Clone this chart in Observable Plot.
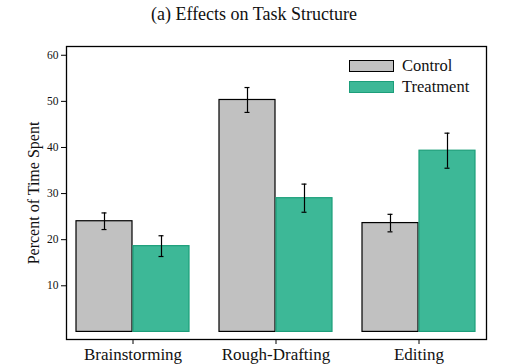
<!DOCTYPE html>
<html>
<head>
<meta charset="utf-8">
<script src="https://cdn.jsdelivr.net/npm/d3@7"></script>
<script src="https://cdn.jsdelivr.net/npm/@observablehq/plot@0.6"></script>
<style>
  html, body { margin: 0; padding: 0; background: #fff; }
  #wrap { position: relative; width: 512px; height: 364px; font-family: "Liberation Serif", "Times New Roman", Times, "DejaVu Serif", serif; }
  #title { position: absolute; left: 0; top: 4px; width: 508px; text-align: center; font-size: 18px; color: #111; line-height: 20px; }
  #chart { position: absolute; left: 0; top: 30px; }
  #chart svg, #chart svg text { font-family: "Liberation Serif", "Times New Roman", Times, "DejaVu Serif", serif !important; }
  .legend { position: absolute; left: 349px; font-size: 16.5px; color: #111; line-height: 16px; }
  .legend .item { display: flex; align-items: center; height: 20.5px; }
  .legend .sw { width: 43px; height: 10px; margin-right: 8px; box-sizing: content-box; }
</style>
</head>
<body>
<div id="wrap">
  <div id="title">(a) Effects on Task Structure</div>
  <div id="chart"></div>
  <div class="legend" id="legend" style="top:56px"></div>
</div>
<script>
const categories = ["Brainstorming", "Rough-Drafting", "Editing"];
const groups = ["Control", "Treatment"];
const controlValues = [24.0, 50.3, 23.6];
const controlErrors = [1.8, 2.7, 1.9];
const treatmentValues = [18.6, 29.0, 39.3];
const treatmentErrors = [2.25, 3.05, 3.8];
const yTicks = [10, 20, 30, 40, 50, 60];
const colors = {Control: "#c1c1c1", Treatment: "#3db897"};
const strokes = {Control: "#000000", Treatment: "#1c9e7a"};

const control = categories.map((c, i) => ({cat: c, value: controlValues[i], lo: controlValues[i] - controlErrors[i], hi: controlValues[i] + controlErrors[i]}));
const treatment = categories.map((c, i) => ({cat: c, value: treatmentValues[i], lo: treatmentValues[i] - treatmentErrors[i], hi: treatmentValues[i] + treatmentErrors[i]}));

const half = 57, off = 28.5;
const serif = "'Liberation Serif', 'Times New Roman', Times, 'DejaVu Serif', serif";

const chart = Plot.plot({
  width: 512,
  height: 334,
  marginLeft: 66,
  marginRight: 26,
  marginTop: 16,
  marginBottom: 25,
  style: {fontFamily: serif, color: "#111", background: "transparent"},
  x: {domain: categories, paddingInner: 0.2083, paddingOuter: 0.0625, label: null},
  y: {domain: [-1.65, 61.9], label: null},
  marks: [
    Plot.barY(control, {x: "cat", y: "value", insetRight: half, fill: colors.Control, stroke: strokes.Control, strokeWidth: 1.2}),
    Plot.barY(treatment, {x: "cat", y: "value", insetLeft: half, fill: colors.Treatment, stroke: strokes.Treatment, strokeWidth: 1.2}),
    Plot.ruleX(control, {x: "cat", y1: "lo", y2: "hi", dx: -off, stroke: "#000", strokeWidth: 1.2}),
    Plot.tickY(control, {x: "cat", y: "lo", dx: -off, insetLeft: 54, insetRight: 54, stroke: "#000", strokeWidth: 1.2}),
    Plot.tickY(control, {x: "cat", y: "hi", dx: -off, insetLeft: 54, insetRight: 54, stroke: "#000", strokeWidth: 1.2}),
    Plot.ruleX(treatment, {x: "cat", y1: "lo", y2: "hi", dx: off, stroke: "#000", strokeWidth: 1.2}),
    Plot.tickY(treatment, {x: "cat", y: "lo", dx: off, insetLeft: 54, insetRight: 54, stroke: "#000", strokeWidth: 1.2}),
    Plot.tickY(treatment, {x: "cat", y: "hi", dx: off, insetLeft: 54, insetRight: 54, stroke: "#000", strokeWidth: 1.2}),
    Plot.frame({stroke: "#000", strokeWidth: 1.3}),
    Plot.axisY({ticks: yTicks, tickSize: 5, tickPadding: 3, fontSize: 11.5, label: null, stroke: "#000"}),
    Plot.axisX({tickSize: 5, tickPadding: 3, fontSize: 17, label: null, stroke: "#000"}),
    Plot.text(["Percent of Time Spent"], {frameAnchor: "left", textAnchor: "middle", rotate: -90, dx: -33, fontSize: 16, fill: "#111"})
  ]
});
document.getElementById("chart").appendChild(chart);

const legend = document.getElementById("legend");
groups.forEach(g => {
  const item = document.createElement("div");
  item.className = "item";
  const sw = document.createElement("div");
  sw.className = "sw";
  sw.style.background = colors[g];
  sw.style.border = "1px solid " + strokes[g];
  const label = document.createElement("span");
  label.textContent = g;
  item.appendChild(sw);
  item.appendChild(label);
  legend.appendChild(item);
});
</script>
</body>
</html>
